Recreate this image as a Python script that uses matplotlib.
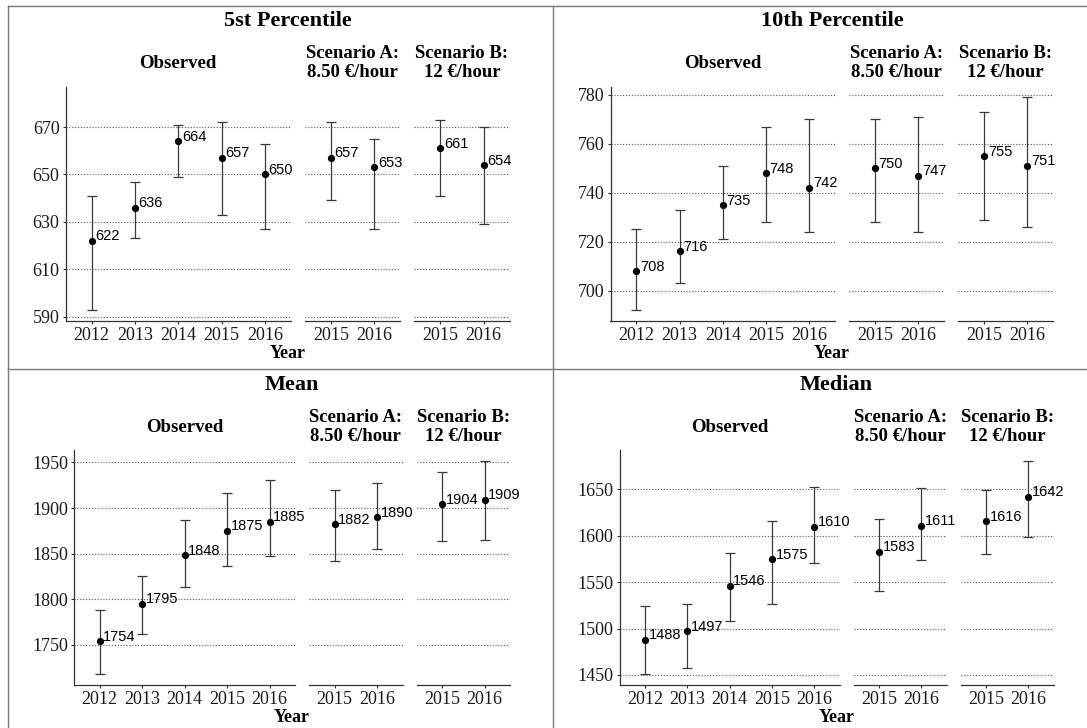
import matplotlib
matplotlib.use("Agg")
import matplotlib.pyplot as plt
from matplotlib.lines import Line2D

# ---------------- data ----------------
years_obs = ["2012", "2013", "2014", "2015", "2016"]
years_scen = ["2015", "2016"]
facet_labels = ["Observed", "Scenario A:\n8.50 €/hour", "Scenario B:\n12 €/hour"]
panel_titles = ["5st Percentile", "10th Percentile", "Mean", "Median"]

p5_obs = [622, 636, 664, 657, 650]
p5_obs_lo = [593, 623, 649, 633, 627]
p5_obs_hi = [641, 647, 671, 672, 663]
p5_A = [657, 653]
p5_A_lo = [639, 627]
p5_A_hi = [672, 665]
p5_B = [661, 654]
p5_B_lo = [641, 629]
p5_B_hi = [673, 670]

p10_obs = [708, 716, 735, 748, 742]
p10_obs_lo = [692, 703, 721, 728, 724]
p10_obs_hi = [725, 733, 751, 767, 770]
p10_A = [750, 747]
p10_A_lo = [728, 724]
p10_A_hi = [770, 771]
p10_B = [755, 751]
p10_B_lo = [729, 726]
p10_B_hi = [773, 779]

mean_obs = [1754, 1795, 1848, 1875, 1885]
mean_obs_lo = [1718, 1762, 1813, 1837, 1847]
mean_obs_hi = [1788, 1826, 1887, 1916, 1931]
mean_A = [1882, 1890]
mean_A_lo = [1842, 1855]
mean_A_hi = [1920, 1928]
mean_B = [1904, 1909]
mean_B_lo = [1864, 1865]
mean_B_hi = [1940, 1952]

med_obs = [1488, 1497, 1546, 1575, 1610]
med_obs_lo = [1451, 1457, 1508, 1526, 1571]
med_obs_hi = [1524, 1527, 1582, 1616, 1653]
med_A = [1583, 1611]
med_A_lo = [1541, 1574]
med_A_hi = [1618, 1652]
med_B = [1616, 1642]
med_B_lo = [1580, 1599]
med_B_hi = [1649, 1681]

y_ticks = [
    [590, 610, 630, 650, 670],
    [700, 720, 740, 760, 780],
    [1750, 1800, 1850, 1900, 1950],
    [1450, 1500, 1550, 1600, 1650],
]

panels = [
    [(p5_obs, p5_obs_lo, p5_obs_hi), (p5_A, p5_A_lo, p5_A_hi), (p5_B, p5_B_lo, p5_B_hi)],
    [(p10_obs, p10_obs_lo, p10_obs_hi), (p10_A, p10_A_lo, p10_A_hi), (p10_B, p10_B_lo, p10_B_hi)],
    [(mean_obs, mean_obs_lo, mean_obs_hi), (mean_A, mean_A_lo, mean_A_hi), (mean_B, mean_B_lo, mean_B_hi)],
    [(med_obs, med_obs_lo, med_obs_hi), (med_A, med_A_lo, med_A_hi), (med_B, med_B_lo, med_B_hi)],
]

# ---------------- layout (pixels) ----------------
W, H = 1087, 728
SERIF = "Liberation Serif"
SANS = "Liberation Sans"

# (left, right, top, bottom) of the plotting block for each quadrant
quad_box = [
    (65.5, 509.5, 86.7, 320.7),
    (610.5, 1053.3, 86.7, 320.7),
    (74.0, 510.0, 450.0, 684.7),
    (619.5, 1053.7, 450.0, 684.7),
]
ylims = [(588.3, 687.0), (687.65, 783.35), (1706.3, 1963.7), (1439.5, 1692.5)]
quad_origin_y = [0, 0, 364, 364]

fig = plt.figure(figsize=(W / 100, H / 100), dpi=100)
fig.patch.set_facecolor("white")


def fx(x):
    return x / W


def fy(y):
    return 1 - y / H


GAP = 14.0
spans = [5.2, 2.2, 2.2]
grid_kw = dict(color="#555555", lw=0.8, linestyle=(0, (1, 1.6)), zorder=0)

for qi in range(4):
    left, right, top, bottom = quad_box[qi]
    unit = (right - left - 2 * GAP) / sum(spans)
    x0 = left
    for fi in range(3):
        w = spans[fi] * unit
        ax = fig.add_axes([fx(x0), fy(bottom), w / W, (bottom - top) / H])
        vals, lo, hi = panels[qi][fi]
        labels = years_obs if fi == 0 else years_scen
        xs = list(range(len(vals)))
        yerr = [[v - l for v, l in zip(vals, lo)], [h - v for v, h in zip(vals, hi)]]
        ax.errorbar(xs, vals, yerr=yerr, fmt="none", ecolor="#3a3a3a",
                    elinewidth=0.9, capsize=3.4, capthick=0.9, zorder=2)
        ax.plot(xs, vals, "o", color="black", markersize=4.2, zorder=3)
        for x, v in zip(xs, vals):
            ax.annotate(str(v), (x, v), xytext=(2.6, 0.3), textcoords="offset points",
                        ha="left", va="baseline", fontsize=10.5, family=SANS,
                        color="black", clip_on=False, annotation_clip=False)
        ax.set_xlim(-0.6, len(vals) - 0.4)
        ax.set_ylim(*ylims[qi])
        for t in y_ticks[qi]:
            ax.axhline(t, **grid_kw)
        ax.set_xticks(xs)
        ax.set_xticklabels(labels, family=SERIF, fontsize=13)
        ax.set_yticks(y_ticks[qi])
        for s in ["top", "right"]:
            ax.spines[s].set_visible(False)
        ax.spines["bottom"].set_color("#333333")
        ax.spines["bottom"].set_linewidth(0.9)
        ax.tick_params(axis="x", length=2.5, width=0.8, color="#333333", pad=2,
                       labelcolor="#1a1a1a")
        if fi == 0:
            ax.spines["left"].set_color("#333333")
            ax.spines["left"].set_linewidth(0.9)
            ax.set_yticklabels([str(t) for t in y_ticks[qi]], family=SERIF, fontsize=13)
            ax.tick_params(axis="y", length=2.5, width=0.8, color="#333333", pad=1.8,
                           labelcolor="#1a1a1a")
        else:
            ax.spines["left"].set_visible(False)
            ax.tick_params(axis="y", left=False, labelleft=False)
        ax.set_facecolor("none")
        # facet strip label
        oy = quad_origin_y[qi]
        fig.text(fx(x0 + w / 2), fy(oy + 63), facet_labels[fi], ha="center", va="center",
                 family=SERIF, fontweight="bold", fontsize=13.5, linespacing=1.15)
        x0 += w + GAP
    oy = quad_origin_y[qi]
    cx = (left + right) / 2
    fig.text(fx(cx), fy(oy + 21), panel_titles[qi], ha="center", va="center",
             family=SERIF, fontweight="bold", fontsize=16)
    fig.text(fx(cx), fy(oy + 353), "Year", ha="center", va="center",
             family=SERIF, fontweight="bold", fontsize=13)

# border / divider lines
border_kw = dict(color="#7a7a7a", lw=1.0, transform=fig.transFigure)
fig.add_artist(Line2D([fx(8), fx(8)], [fy(6), fy(H)], **border_kw))
fig.add_artist(Line2D([fx(8), fx(W)], [fy(6), fy(6)], **border_kw))
fig.add_artist(Line2D([fx(552.7), fx(552.7)], [fy(6), fy(H)], **border_kw))
fig.add_artist(Line2D([fx(8), fx(W)], [fy(368.7), fy(368.7)], **border_kw))

fig.savefig("out.png", dpi=100, facecolor="white")
